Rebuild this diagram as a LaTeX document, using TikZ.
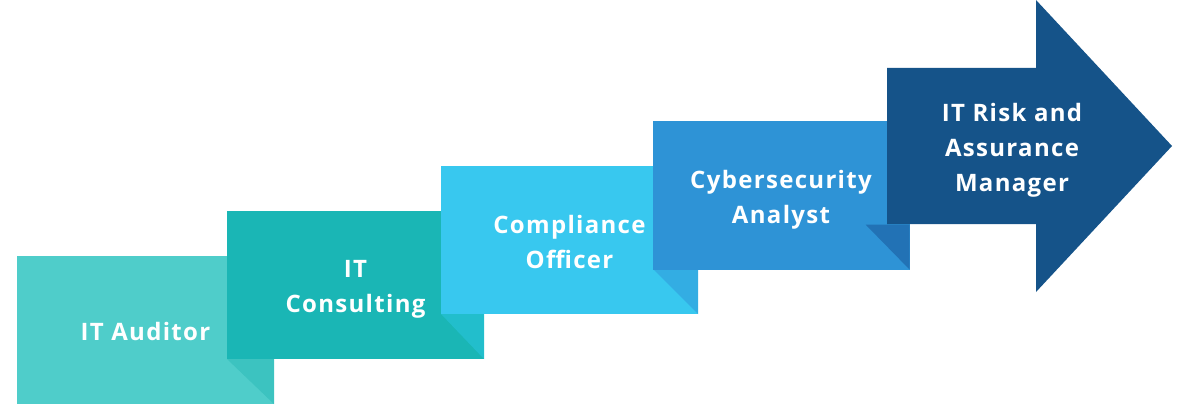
\documentclass[tikz,border=0pt]{standalone}
\usepackage{fontspec}
\setmainfont{Open Sans}[LetterSpace=5.5]
\definecolor{cA}{HTML}{4FCDCA}
\definecolor{fA}{HTML}{3CC3C0}
\definecolor{cB}{HTML}{1AB6B5}
\definecolor{fB}{HTML}{22BECC}
\definecolor{cC}{HTML}{38C8EF}
\definecolor{fC}{HTML}{33ADE3}
\definecolor{cD}{HTML}{2E93D6}
\definecolor{fD}{HTML}{2272B5}
\definecolor{cE}{HTML}{155389}
\tikzset{
  stepbox/.style={rectangle, minimum width=257pt, minimum height=148pt, inner sep=0pt},
  steptext/.style={text=white, align=center, inner sep=0pt, font=\fontsize{24}{35}\selectfont\bfseries}
}
\begin{document}
\begin{tikzpicture}[x=1pt,y=-1pt]
\useasboundingbox (0,0) rectangle (1190,417);
% box 1
\node[stepbox, fill=cA] (b1) at (145.5,330) {};
\fill[fA] ([xshift=-47pt,yshift=45pt]b1.south east) -- ([yshift=45pt]b1.south east) -- (b1.south east) -- cycle;
\node[steptext] (t1) at ([yshift=-1pt]b1.center) {IT Auditor};
% box 2
\node[stepbox, fill=cB] (b2) at (355.5,285) {};
\fill[fB] ([xshift=-43pt,yshift=45pt]b2.south east) -- ([yshift=45pt]b2.south east) -- (b2.south east) -- cycle;
\node[steptext] (t2) at ([yshift=-4pt]b2.center) {IT\\Consulting};
% box 3
\node[stepbox, fill=cC] (b3) at (569.5,240) {};
\fill[fC] ([xshift=-45pt,yshift=45pt]b3.south east) -- ([yshift=45pt]b3.south east) -- (b3.south east) -- cycle;
\node[steptext] (t3) at ([yshift=-2pt]b3.center) {Compliance\\Officer};
% box 4
\node[stepbox, fill=cD] (b4) at (781,195.5) {};
\fill[fD] ([xshift=-44pt,yshift=45pt]b4.south east) -- ([yshift=45pt]b4.south east) -- (b4.south east) -- cycle;
\node[steptext] (t4) at ([yshift=-4pt]b4.center) {Cybersecurity\\Analyst};
% arrow
\fill[cE] (887,68) -- (1036,68) -- (1036,0) -- (1172,146) -- (1036,292) -- (1036,224) -- (887,224) -- cycle;
\node[steptext] (t5) at (1012,150) {IT Risk and\\Assurance\\Manager};
\end{tikzpicture}
\end{document}
